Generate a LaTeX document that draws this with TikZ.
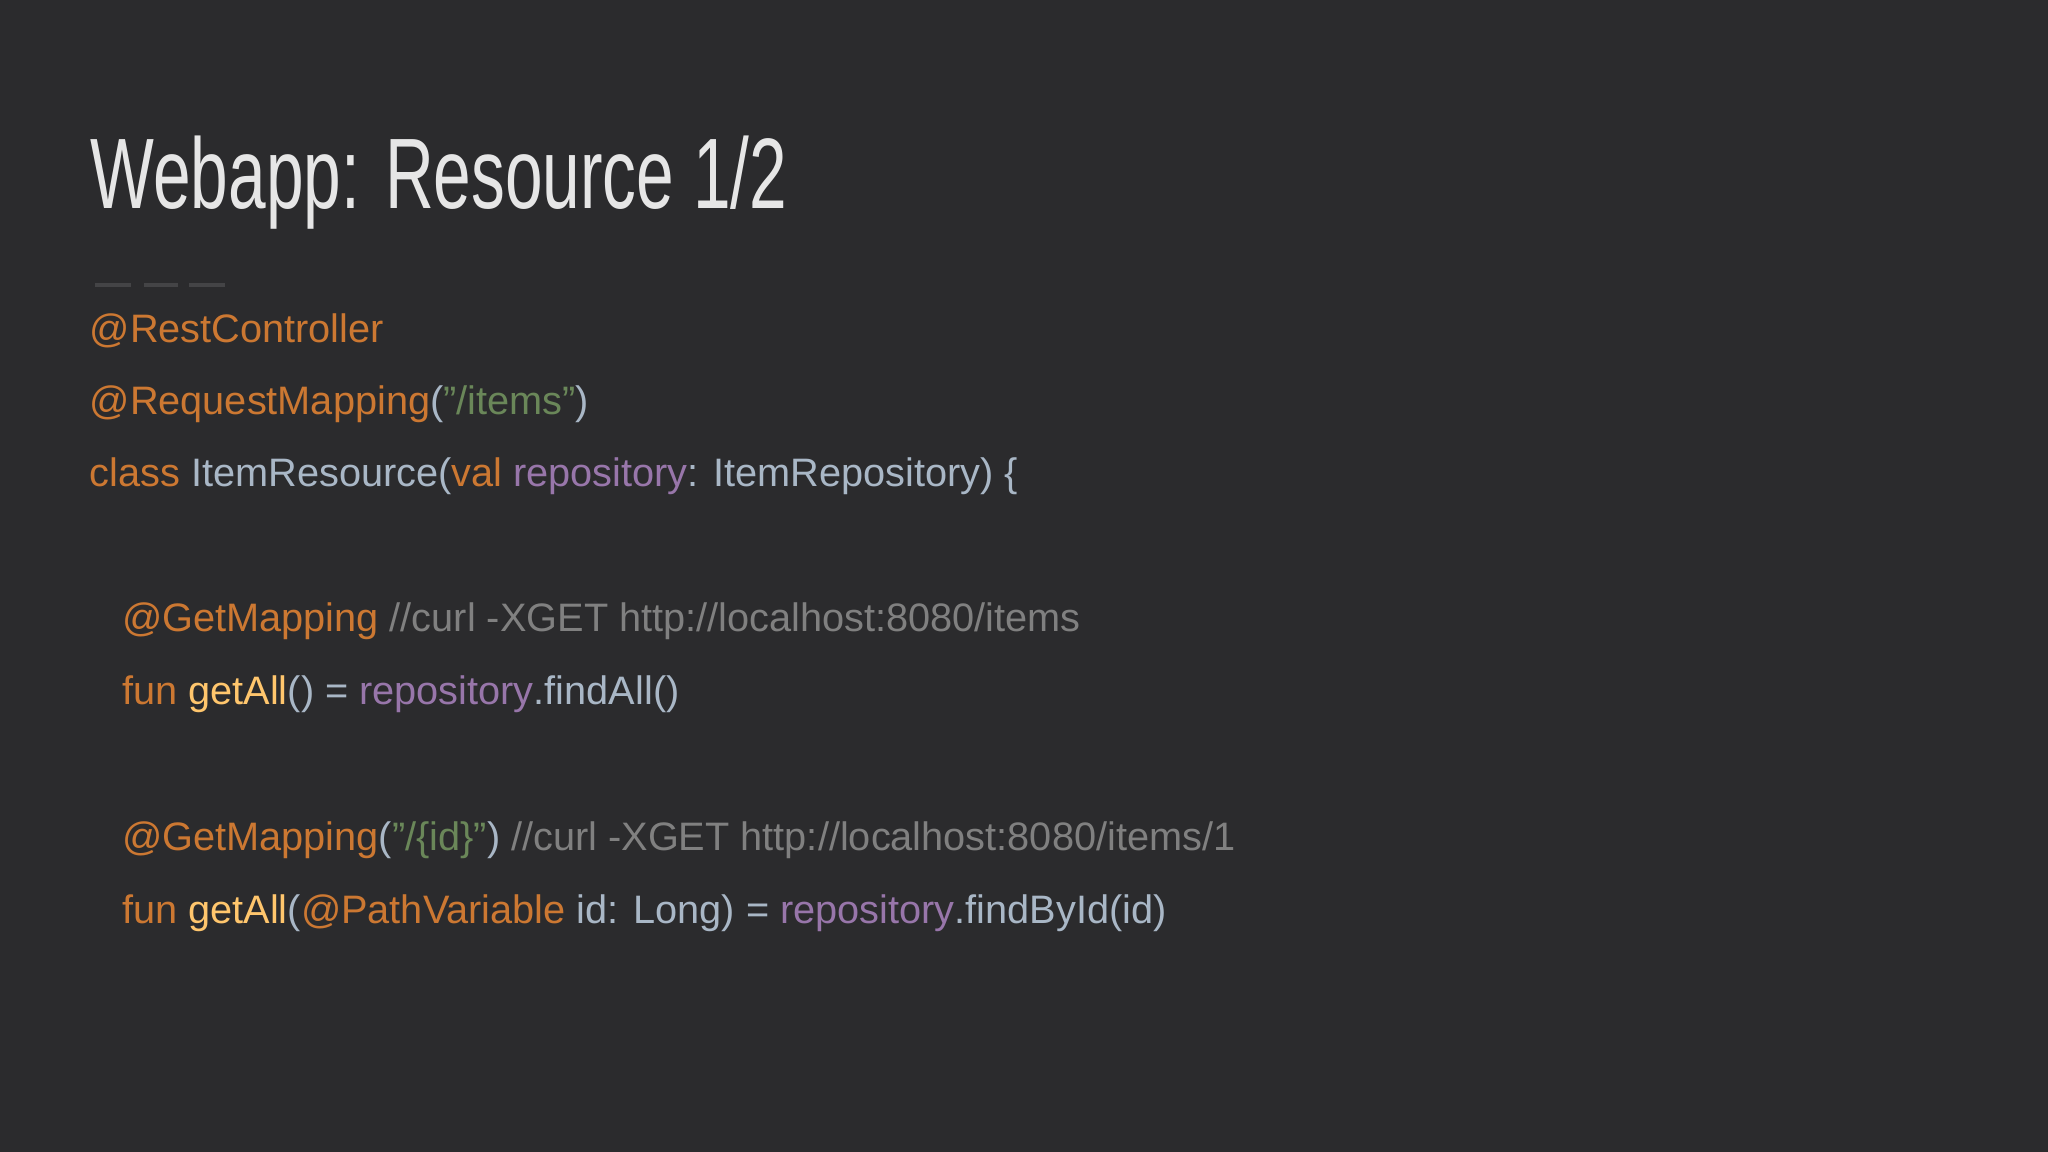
\documentclass[tikz,border=0pt]{standalone}
\usepackage{fontspec}
\setmainfont{Liberation Sans}
\usepackage{graphicx}
\definecolor{bg}{HTML}{2B2B2D}
\definecolor{kw}{HTML}{CC7832}
\definecolor{str}{HTML}{6A8759}
\definecolor{pur}{HTML}{9876AA}
\definecolor{txt}{HTML}{A9B7C6}
\definecolor{cmt}{HTML}{808080}
\definecolor{fn}{HTML}{FFC66D}
\definecolor{ttl}{HTML}{E6E6E6}
\definecolor{dsh}{HTML}{444446}
\tikzset{code/.style={anchor=base west,inner sep=0pt,font=\fontsize{11.3pt}{13pt}\selectfont,text=txt}}
\begin{document}
\begin{tikzpicture}
\fill[bg] (0,0) rectangle (20.48,-11.52);
\useasboundingbox (0,0) rectangle (20.48,-11.52);
\node[anchor=base west,inner sep=0pt,text=ttl] (title) at (0.90,-2.09) {\scalebox{0.675}[1]{\fontsize{28.5pt}{30pt}\selectfont Webapp: Resource 1/2}};
\foreach \a/\b in {0.95/1.31,1.44/1.78,1.89/2.25}
  \draw[dsh,line width=1.2pt] (\a,-2.85) -- (\b,-2.85);
\node[code] (l1) at (0.89,-3.43) {\color{kw}@RestController};
\node[code] (l2) at (0.89,-4.15) {\color{kw}@RequestMapping\color{txt}(\color{str}"/items"\color{txt})};
\node[code] (l3) at (0.89,-4.87) {\color{kw}class \color{txt}ItemResource(\color{kw}val \color{pur}repository\color{txt}: ItemRepository) \{};
\node[code] (l4) at (1.215,-6.32) {\color{kw}@GetMapping \color{cmt}//curl -XGET http://localhost:8080/items};
\node[code] (l5) at (1.215,-7.05) {\color{kw}fun \color{fn}getAll\color{txt}() = \color{pur}repository\color{txt}.findAll()};
\node[code] (l6) at (1.215,-8.50) {\color{kw}@GetMapping\color{txt}(\color{str}"/\{id\}"\color{txt}) \color{cmt}//curl -XGET http://localhost:8080/items/1};
\node[code] (l7) at (1.215,-9.23) {\color{kw}fun \color{fn}getAll\color{txt}(\color{kw}@PathVariable \color{txt}id: Long) = \color{pur}repository\color{txt}.findById(id)};
\end{tikzpicture}
\end{document}
